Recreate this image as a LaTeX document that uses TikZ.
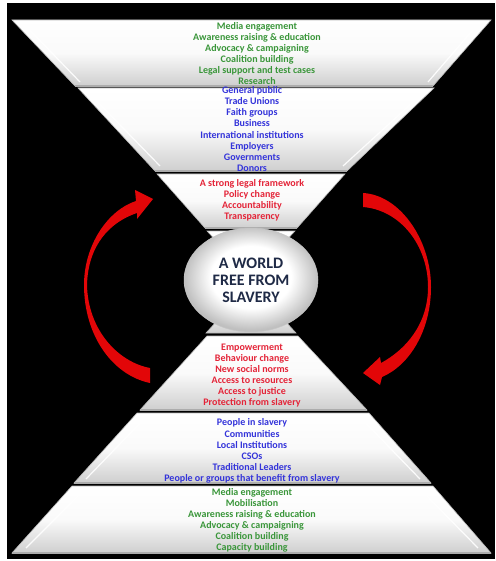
\documentclass[tikz,border=0pt]{standalone}
\usepackage{fontspec}
\setmainfont{Carlito}
\usetikzlibrary{shapes.geometric}
\definecolor{grn}{RGB}{58,150,58}
\definecolor{blu}{RGB}{52,52,218}
\definecolor{rd}{RGB}{228,36,56}
\definecolor{navy}{RGB}{31,42,70}
\definecolor{arrowred}{RGB}{226,6,8}
\pgfdeclareradialshading{ellshade}{\pgfpoint{0bp}{2bp}}{color(0bp)=(white); color(15bp)=(white); color(25bp)=(gray!50); color(50bp)=(gray!50)}
\tikzset{
  band/.style={top color=white, bottom color=gray!38, middle color=white!96!gray, draw=gray!55, line width=0.6pt},
  rim/.style={draw=gray!65, line width=1.6pt},
  hilite/.style={draw=white, line width=1.2pt, opacity=0.9},
  lbl/.style={align=center, inner sep=0pt, font=\bfseries\fontsize{10}{11.1}\selectfont},
  gtext/.style={lbl, text=grn},
  btext/.style={lbl, text=blu},
  rtext/.style={lbl, text=rd},
  arrowfill/.style={fill=arrowred},
}
\begin{document}
\begin{tikzpicture}[x=1pt,y=-1pt]
\useasboundingbox (0,0) rectangle (495,561);
\fill[white] (0,0) rectangle (495,561);
\fill[black] (7,3) rectangle (495,559);

% upper funnel
\path[band] (12,20) -- (491,20) -- (433,86) -- (75,86) -- cycle;
\draw[rim] (75,86) -- (433,86);
\path[band] (78,88) -- (434,88) -- (347,171) -- (155,171) -- cycle;
\draw[rim] (155,171) -- (347,171);
\path[band] (157,174) -- (345,174) -- (297,228) -- (205,228) -- cycle;
\draw[rim] (205,228) -- (297,228);
\path[band] (207,231) -- (295,231) -- (251,278) -- cycle;

% lower pyramid
\path[band] (251,284) -- (296,333) -- (206,333) -- cycle;
\path[band] (207,336) -- (298,336) -- (367,410) -- (140,410) -- cycle;
\draw[rim] (140,410) -- (367,410);
\path[band] (137,413) -- (369,413) -- (431,483) -- (74,483) -- cycle;
\draw[rim] (74,483) -- (431,483);
\path[band] (72,486) -- (433,486) -- (491,553) -- (12,553) -- cycle;
\draw[rim] (12,553) -- (491,553);

% highlights on slanted sides
\draw[hilite] (24,24) -- (80,82);
\draw[hilite] (478,24) -- (428,82);
\draw[hilite] (88,92) -- (160,166);
\draw[hilite] (424,92) -- (343,166);
\draw[hilite] (84,490) -- (26,548);
\draw[hilite] (421,490) -- (478,548);
\draw[hilite] (146,417) -- (86,479);
\draw[hilite] (360,417) -- (420,479);

% centre
\node[ellipse, minimum width=134pt, minimum height=104pt, inner sep=0pt,
      shading=ellshade, draw=gray!45, line width=0.5pt,
      text=navy, align=center, font=\bfseries\fontsize{16}{17}\selectfont]
      (world) at (251,280) {A WORLD\\FREE FROM\\SLAVERY};

% labels
\node[gtext] (acts1) at (257,53.5) {Media engagement\\Awareness raising \& education\\Advocacy \& campaigning\\Coalition building\\Legal support and test cases\\Research};
\node[btext] (targ1) at (252,129) {General public\\Trade Unions\\Faith groups\\Business\\International institutions\\Employers\\Governments\\Donors};
\node[rtext] (out1) at (252,200) {A strong legal framework\\Policy change\\Accountability\\Transparency};
\node[rtext] (out2) at (252,375.5) {Empowerment\\Behaviour change\\New social norms\\Access to resources\\Access to justice\\Protection from slavery};
\node[btext] (targ2) at (252,451) {People in slavery\\Communities\\Local Institutions\\CSOs\\Traditional Leaders\\People or groups that benefit from slavery};
\node[gtext] (acts2) at (252,520.5) {Media engagement\\Mobilisation\\Awareness raising \& education\\Advocacy \& campaigning\\Coalition building\\Capacity building};

% curved arrows
\fill[arrowfill] (136,201) .. controls (108,210) and (84,245) .. (84,285)
  .. controls (84,335) and (112,375) .. (150,383) -- (150,368)
  .. controls (118,362) and (88,330) .. (87,285)
  .. controls (88,245) and (110,222) .. (137,213)
  -- (137,219) -- (153,199) -- (135,190) -- cycle;
\fill[arrowfill] (363,193) .. controls (400,195) and (431,240) .. (431,287)
  .. controls (431,330) and (410,365) .. (382,377)
  -- (380,385) -- (363,373) -- (380,357) -- (381,363)
  .. controls (405,350) and (428,325) .. (428,287)
  .. controls (428,245) and (400,210) .. (363,207) -- cycle;
\end{tikzpicture}
\end{document}
